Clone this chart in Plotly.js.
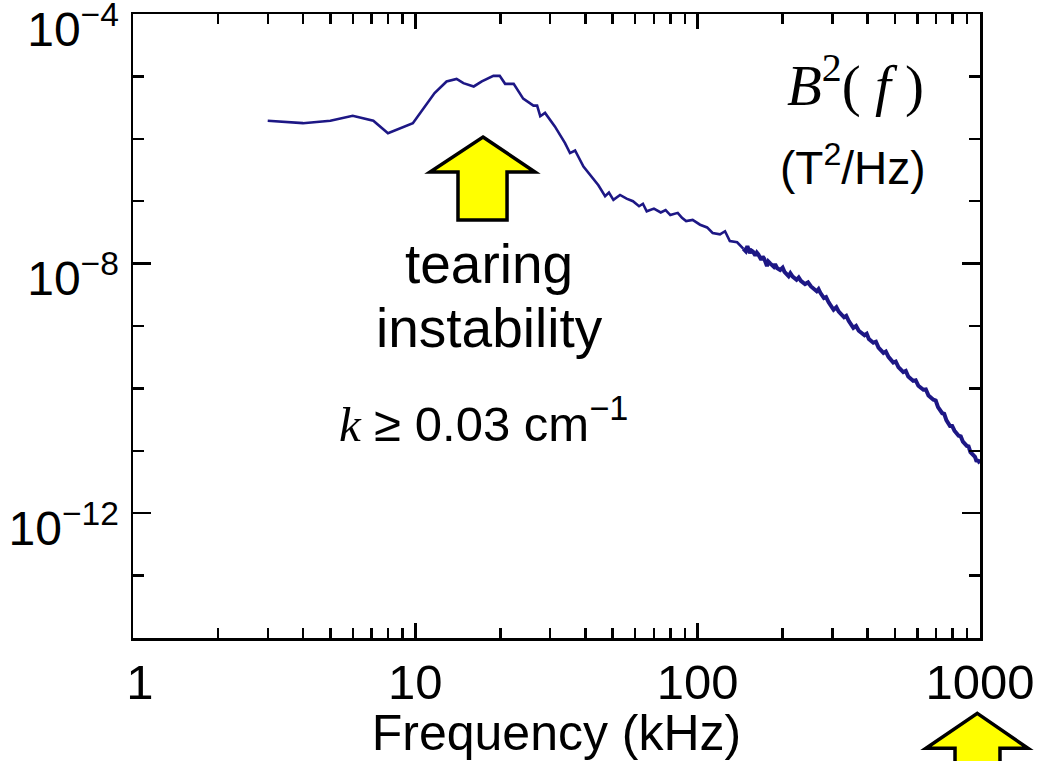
<!DOCTYPE html>
<html>
<head>
<meta charset="utf-8">
<script src="https://cdn.plot.ly/plotly-3.0.1.min.js"></script>
<style>html,body{margin:0;padding:0;background:#fff;}#chart{width:1038px;height:761px;}</style>
</head>
<body>
<div id="chart"></div>
<script>
// Frequency (kHz) and B^2(f) (T^2/Hz), low-frequency part of the spectrum
const freqLow = [3.0, 4.0, 5.0, 6.0, 7.1, 8.0, 9.8, 11.7, 12.9, 14.0, 14.8, 16.1, 17.2, 18.9, 19.9, 20.8, 22.3, 24.1, 26.2, 27.0, 27.7, 28.8, 31.2, 33.9, 35.3, 36.8, 39.4, 41.6, 44.5, 47.0, 48.5, 50.3, 53.1, 56, 59, 62, 64, 66, 70, 74, 77, 80, 85, 88, 91, 96, 102, 108, 113, 120, 125, 130, 138, 145];
const powerLow = [1.95e-6, 1.78e-6, 1.95e-6, 2.34e-6, 1.95e-6, 1.23e-6, 1.78e-6, 5.4e-6, 8.3e-6, 9.1e-6, 7.8e-6, 6.9e-6, 8.3e-6, 1.02e-5, 1.02e-5, 7.6e-6, 7.6e-6, 4.4e-6, 3.4e-6, 3.4e-6, 2.3e-6, 2.6e-6, 1.58e-6, 8.5e-7, 5.9e-7, 6.5e-7, 3.6e-7, 2.6e-7, 1.8e-7, 1.2e-7, 1.38e-7, 1.05e-7, 1.26e-7, 1.1e-7, 1.0e-7, 8.3e-8, 9.1e-8, 6.9e-8, 7.6e-8, 6.6e-8, 7.2e-8, 6.0e-8, 6.5e-8, 5.4e-8, 4.8e-8, 5.0e-8, 4.2e-8, 3.8e-8, 3.1e-8, 2.95e-8, 3.3e-8, 2.3e-8, 2.2e-8, 1.74e-8];
// High-frequency (noisier, denser) part of the spectrum
const freqHigh = [145, 148, 150, 153, 155, 157, 160, 162, 164, 168, 170, 172, 176, 178, 181, 186, 188, 191, 196, 200, 203, 210, 213, 217, 224, 228, 232, 240, 246, 252, 264, 268, 272, 280, 285, 291, 303, 310, 316, 330, 336, 343, 356, 364, 372, 390, 397, 404, 419, 428, 437, 455, 464, 474, 493, 503, 514, 535, 546, 557, 580, 592, 605, 630, 643, 657, 684, 697, 710, 735, 747, 760, 783, 797, 812, 840, 855, 870, 898, 911, 925, 950, 960, 970, 987, 1000];
const powerHigh = [1.74e-8, 1.58e-8, 1.9e-8, 1.48e-8, 1.62e-8, 1.55e-8, 1.35e-8, 1.5e-8, 1.4e-8, 1.15e-8, 1.3e-8, 1.2e-8, 9.1e-9, 1.08e-8, 1.0e-8, 8.9e-9, 9.8e-9, 8.5e-9, 7.9e-9, 8.6e-9, 7.4e-9, 6.3e-9, 7.0e-9, 6.2e-9, 5.5e-9, 6.0e-9, 5.3e-9, 4.7e-9, 5.0e-9, 4.3e-9, 3.6e-9, 3.9e-9, 3.4e-9, 2.8e-9, 2.9e-9, 2.4e-9, 1.82e-9, 2.0e-9, 1.7e-9, 1.38e-9, 1.45e-9, 1.2e-9, 9.3e-10, 1.0e-9, 8.4e-10, 7.1e-10, 7.5e-10, 6.2e-10, 5.4e-10, 5.6e-10, 4.5e-10, 3.7e-10, 3.9e-10, 3.2e-10, 2.6e-10, 2.7e-10, 2.2e-10, 1.82e-10, 1.9e-10, 1.55e-10, 1.32e-10, 1.35e-10, 1.1e-10, 9.5e-11, 9.6e-11, 7.7e-11, 6.6e-11, 6.4e-11, 5.0e-11, 4.0e-11, 3.9e-11, 3.1e-11, 2.5e-11, 2.5e-11, 2.1e-11, 1.74e-11, 1.7e-11, 1.4e-11, 1.2e-11, 1.18e-11, 9.5e-12, 8.3e-12, 8.0e-12, 7.0e-12, 6.9e-12, 6.3e-12];

// Axis ticks
const xTickVals = [1, 10, 100, 1000];
const xTickText = ["\u00a01", "10", "100", "1000"];
const xMinorVals = [2,3,4,5,6,7,8,9,20,30,40,50,60,70,80,90,200,300,400,500,600,700,800,900];
const yTickVals = [1e-12, 1e-8, 1e-4];
const yTickText = ["10<sup>\u221212</sup>", "10<sup>\u22128</sup>", "10<sup>\u22124</sup>"];
const yMinorVals = [1e-14, 1e-13, 1e-11, 1e-10, 1e-9, 1e-7, 1e-6, 1e-5];

// Text labels
const labelTitle = "<i>B</i><sup>2</sup>( <i>f</i> )";
const labelUnits = "(T<sup>2</sup>/Hz)";
const labelTearing1 = "tearing";
const labelTearing2 = "instability";
const labelK = "<span style='font-family:Liberation Serif'><i>k</i></span> \u2265 0.03 cm<sup>\u22121</sup>";
const xTitle = "Frequency (kHz)";

const lineColor = "#1d1785";
const sans = "Liberation Sans, Arial, sans-serif";

const traces = [
  {x: freqLow, y: powerLow, type: "scatter", mode: "lines", line: {color: lineColor, width: 2.6}, hoverinfo: "skip"},
  {x: freqHigh, y: powerHigh, type: "scatter", mode: "lines", line: {color: lineColor, width: 4.0}, hoverinfo: "skip"},
  // empty helper trace so that the top (mirrored) frequency axis with its minor ticks is drawn
  {x: [], y: [], xaxis: "x2", yaxis: "y", type: "scatter", mode: "lines", hoverinfo: "skip"}
];

function arrowPath(tipX, tipY, headY, headL, headR, shaftL, shaftR, bottomY) {
  return `M ${tipX} ${tipY} L ${headR} ${headY} L ${shaftR} ${headY} L ${shaftR} ${bottomY} L ${shaftL} ${bottomY} L ${shaftL} ${headY} L ${headL} ${headY} Z`;
}

const xTickStyle = {
  type: "log", range: [0, 3], autorange: false,
  tickmode: "array", tickvals: xTickVals, ticktext: xTickText,
  ticks: "inside", ticklen: 15, tickwidth: 2.4, tickcolor: "#000",
  minor: {tickmode: "array", tickvals: xMinorVals, ticks: "inside", ticklen: 10, tickwidth: 2.4, tickcolor: "#000", showgrid: false},
  showline: true, linewidth: 2.5, linecolor: "#000",
  showgrid: false, zeroline: false
};

const layout = {
  width: 1038, height: 761,
  margin: {l: 133, r: 58, t: 14, b: 123},
  paper_bgcolor: "#fff", plot_bgcolor: "#fff",
  showlegend: false,
  font: {family: sans, color: "#000", size: 48},
  xaxis: Object.assign({}, xTickStyle, {
    tickfont: {family: sans, size: 49, color: "#000"},
    title: {text: xTitle, font: {family: sans, size: 50, color: "#000"}, standoff: 6}
  }),
  xaxis2: Object.assign({}, xTickStyle, {
    overlaying: "x", side: "top", anchor: "y", showticklabels: false
  }),
  yaxis: {
    type: "log", range: [-14, -4],
    tickmode: "array", tickvals: yTickVals, ticktext: yTickText,
    ticks: "inside", ticklen: 18, tickwidth: 2.4, tickcolor: "#000",
    minor: {tickmode: "array", tickvals: yMinorVals, ticks: "inside", ticklen: 11, tickwidth: 2.2, tickcolor: "#000", showgrid: false},
    showline: true, linewidth: 2.5, linecolor: "#000", mirror: "ticks",
    showgrid: false, zeroline: false,
    tickfont: {family: sans, size: 48, color: "#000"},
    ticklabelstandoff: 2, ticklabeloverflow: "allow", ticklabelshift: 15
  },
  shapes: [
    {type: "path", xref: "paper", yref: "paper", layer: "above",
     path: arrowPath(0.4132, 0.8029, 0.7468, 0.3507, 0.4746, 0.3837, 0.4416, 0.6699),
     fillcolor: "#ffff00", line: {color: "#000", width: 3.5}},
    {type: "path", xref: "paper", yref: "paper", layer: "above",
     path: arrowPath(0.9968, -0.1207, -0.1768, 0.9362, 1.0567, 0.9705, 1.0236, -0.30),
     fillcolor: "#ffff00", line: {color: "#000", width: 3.5}}
  ],
  annotations: [
    {xref: "paper", yref: "paper", x: (855-133)/847, y: (638-82)/624, text: labelTitle, showarrow: false,
     font: {family: "Liberation Serif, Times New Roman, serif", size: 57, color: "#000"}, xanchor: "center", yanchor: "middle"},
    {xref: "paper", yref: "paper", x: (853-133)/847, y: (638-165)/624, text: labelUnits, showarrow: false,
     font: {family: sans, size: 46, color: "#000"}, xanchor: "center", yanchor: "middle"},
    {xref: "paper", yref: "paper", x: (489-133)/847, y: (638-264)/624, text: labelTearing1, showarrow: false,
     font: {family: sans, size: 55, color: "#000"}, xanchor: "center", yanchor: "middle"},
    {xref: "paper", yref: "paper", x: (489-133)/847, y: (638-328)/624, text: labelTearing2, showarrow: false,
     font: {family: sans, size: 55, color: "#000"}, xanchor: "center", yanchor: "middle"},
    {xref: "paper", yref: "paper", x: (483-133)/847, y: (638-420)/624, text: labelK, showarrow: false,
     font: {family: sans, size: 49, color: "#000"}, xanchor: "center", yanchor: "middle"}
  ]
};

Plotly.newPlot("chart", traces, layout, {displayModeBar: false, staticPlot: true});
</script>
</body>
</html>
